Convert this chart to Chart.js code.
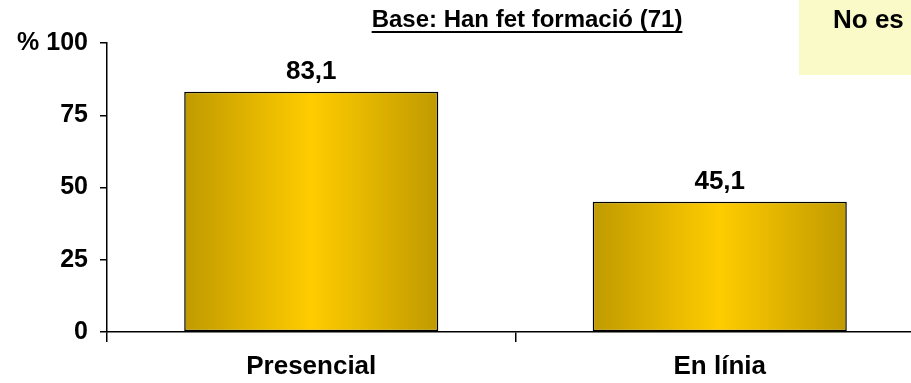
<!DOCTYPE html>
<html>
<head>
<meta charset="utf-8">
<script src="https://cdn.jsdelivr.net/npm/chart.js@4/dist/chart.umd.min.js"></script>
<style>
  html, body { margin: 0; padding: 0; background: #fff; overflow: hidden; }
  #wrap { width: 924px; height: 383px; }
</style>
</head>
<body>
<div id="wrap"><canvas id="formacioChart"></canvas></div>
<script>
// Data
const categories = ["Presencial", "En línia"];
const percentValues = [83.1, 45.1];
const yTicks = [0, 25, 50, 75, 100];
const titleText = "Base: Han fet formació (71)";
const noteText = "No es";

const FONT = "'Liberation Sans', Arial, sans-serif";
const BAR_PCT = 0.622;

// horizontal gold gradient for each bar
function barGradient(ctx) {
  const chart = ctx.chart;
  const xScale = chart.scales.x;
  if (!xScale || !chart.chartArea) return "#FFCC00";
  const cx = xScale.getPixelForValue(ctx.dataIndex);
  const half = (xScale.width / categories.length) * BAR_PCT / 2;
  const g = chart.ctx.createLinearGradient(cx - half, 0, cx + half, 0);
  g.addColorStop(0, "#C09A00");
  g.addColorStop(0.5, "#FFCC00");
  g.addColorStop(1, "#C09A00");
  return g;
}

// title, note box and value labels
const extras = {
  id: "extras",
  afterDraw(chart) {
    const c = chart.ctx;
    c.save();
    // note box at top right
    c.fillStyle = "#FAFAC8";
    c.fillRect(799, 0, 125, 75);
    c.fillStyle = "#000";
    c.font = "bold 26px " + FONT;
    c.textAlign = "left";
    c.textBaseline = "middle";
    c.fillText(noteText, 833, 21);

    // underlined title
    c.font = "bold 24px " + FONT;
    c.textAlign = "center";
    const tw = c.measureText(titleText).width;
    c.fillText(titleText, 527, 20);
    c.fillRect(527 - tw / 2, 31, tw, 2);

    // values above bars
    c.font = "bold 26px " + FONT;
    c.textBaseline = "alphabetic";
    chart.getDatasetMeta(0).data.forEach((bar, i) => {
      c.fillText(percentValues[i].toFixed(1).replace(".", ","), bar.x, bar.y - 13);
    });
    c.restore();
  }
};

new Chart(document.getElementById("formacioChart"), {
  type: "bar",
  data: {
    labels: categories,
    datasets: [{
      data: percentValues,
      backgroundColor: barGradient,
      borderColor: "#000",
      borderWidth: 1.5,
      borderSkipped: false,
      barPercentage: BAR_PCT,
      categoryPercentage: 1
    }]
  },
  options: {
    responsive: true,
    maintainAspectRatio: false,
    animation: false,
    layout: { padding: { top: 43, left: 0, right: 0, bottom: 0 } },
    plugins: {
      legend: { display: false },
      tooltip: { enabled: false }
    },
    scales: {
      x: {
        afterFit(scale) { scale.height = 51; },
        grid: { display: true, drawOnChartArea: false, tickLength: 10, color: "#000", lineWidth: 1.5 },
        border: { display: true, color: "#000", width: 1.5 },
        ticks: { color: "#000", padding: 9, font: { family: FONT, size: 26, weight: "bold" } }
      },
      y: {
        min: 0,
        max: 100,
        afterFit(scale) { scale.width = 107; },
        afterBuildTicks(scale) { scale.ticks = yTicks.map(v => ({ value: v })); },
        grid: { display: true, drawOnChartArea: false, tickLength: 7, color: "#000", lineWidth: 1.5 },
        border: { display: true, color: "#000", width: 1.5 },
        ticks: {
          color: "#000",
          padding: 12,
          font: { family: FONT, size: 25, weight: "bold" },
          callback: v => (v === 100 ? "% 100" : String(v))
        }
      }
    }
  },
  plugins: [extras]
});
</script>
</body>
</html>
